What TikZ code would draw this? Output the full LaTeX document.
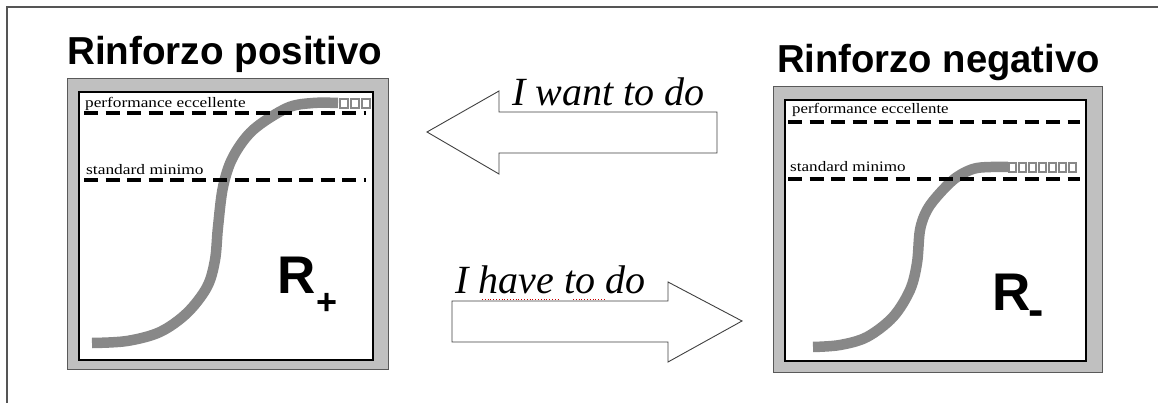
\documentclass[tikz,border=0pt]{standalone}
\usepackage{fontspec}
\setmainfont{Liberation Serif}
\newfontfamily\titlefont{Liberation Sans}
\newcommand{\sxtext}[2]{\scalebox{#1}[1]{#2}}
\definecolor{panelgray}{HTML}{C0C0C0}
\definecolor{curvegray}{HTML}{888888}
\definecolor{framegray}{HTML}{555555}
\tikzset{
  framebox/.style={fill=panelgray, draw=gray!70!black, line width=0.8pt},
  innerbox/.style={fill=white, draw=black, line width=2.5pt},
  level/.style={draw=black, line width=3.2pt, dash pattern=on 14pt off 7.5pt},
  levellabel/.style={anchor=base west, inner sep=0pt, font=\fontsize{14.5}{16}\selectfont},
  title/.style={anchor=base west, inner sep=0pt, font=\titlefont\bfseries\fontsize{39}{42}\selectfont},
  curve/.style={draw=curvegray, line width=10.5pt},
  sq/.style={draw=curvegray, fill=white, line width=1.4pt},
  blockarrow/.style={draw=black!75, line width=0.9pt, fill=white},
  arrowlabel/.style={anchor=base west, inner sep=0pt, font=\itshape\fontsize{40}{44}\selectfont},
  rlabel/.style={anchor=base west, inner sep=0pt, font=\titlefont\bfseries\fontsize{53}{56}\selectfont},
  spell/.style={draw=red!80!black, line width=0.8pt, dotted}
}
\begin{document}
\begin{tikzpicture}[x=1pt, y=-1pt]
\useasboundingbox (0,0) rectangle (1158,403);
% outer frame (top and left lines)
\coordinate (fa) at (7,403);
\coordinate (fb) at (7,7);
\coordinate (fc) at (1158,7);
\draw[framegray, line width=1.5pt] (fa) -- (fb) -- (fc);

% ---------------- left panel ----------------
\node[title] (tpos) at (67,65) {\sxtext{0.99}{Rinforzo positivo}};
\draw[framebox] (67,78) rectangle (388,369);
\draw[innerbox] (79,92) rectangle (373,360);
\draw[curve] plot[smooth, tension=0.55] coordinates {(92,343) (127,341) (160,332) (187,313) (207,287) (215,260) (218,227) (223,187) (233,157) (253,130) (287,108) (313,103) (338,103)};
\foreach \i in {0,1,2} { \draw[sq] (340+\i*11,99) rectangle (348+\i*11,108); }
\draw[level] (84,113) -- (366,113);
\draw[level] (84,180) -- (366,180);
\node[levellabel] (lpe) at (85,108) {\sxtext{1.19}{performance eccellente}};
\node[levellabel] (lsm) at (86,175) {\sxtext{1.2}{standard minimo}};
\node[rlabel] (rp) at (277,293) {R\kern1pt\raisebox{-21.5pt}{\fontsize{36}{40}\selectfont +}};

% ---------------- right panel ----------------
\node[title] (tneg) at (777,73) {\sxtext{0.98}{Rinforzo negativo}};
\draw[framebox] (773,86) rectangle (1102,372);
\draw[innerbox] (785,100) rectangle (1086,361);
\draw[curve] plot[smooth, tension=0.55] coordinates {(813,347) (840,345) (867,337) (893,317) (910,290) (917,263) (920,230) (927,210) (940,193) (957,177) (977,168) (1008,167)};
\foreach \i in {0,...,6} { \draw[sq] (1009+\i*10,163) rectangle (1016+\i*10,172); }
\draw[level] (788,122) -- (1080,122);
\draw[level] (788,179) -- (1080,179);
\node[levellabel] (rpe) at (792,114) {\sxtext{1.16}{performance eccellente}};
\node[levellabel] (rsm) at (790,172) {\sxtext{1.18}{standard minimo}};
\node[rlabel] (rn) at (992,310) {R\kern-2pt\raisebox{-15pt}{\fontsize{46}{50}\selectfont -}};

% ---------------- arrows ----------------
\coordinate (lt) at (427,132);
\draw[blockarrow] (lt) -- (499,91) -- (499,112) -- (717,112) -- (717,153) -- (499,153) -- (499,174) -- cycle;
\node[arrowlabel] (want) at (512,106) {I want to do};

\coordinate (rt) at (742,321);
\draw[blockarrow] (rt) -- (668,362) -- (668,342) -- (452,342) -- (452,301) -- (668,301) -- (668,282) -- cycle;
\node[arrowlabel] (have) at (455,293) {I have to do};
\draw[spell] (482,299.5) -- (558,299.5);
\draw[spell] (573,299.5) -- (605,299.5);
\end{tikzpicture}
\end{document}
